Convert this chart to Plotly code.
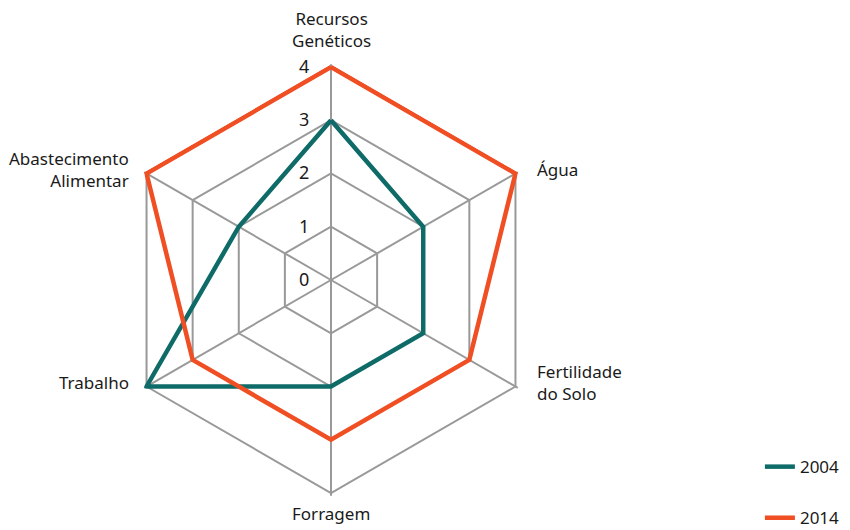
import math
import plotly.graph_objects as go

categories = ["Recursos<br>Genéticos", "Água", "Fertilidade<br>do Solo", "Forragem", "Trabalho", "Abastecimento<br>Alimentar"]
values_2004 = [3, 2, 2, 2, 4, 2]
values_2014 = [4, 4, 3, 3, 3, 4]
radial_ticks = [0, 1, 2, 3, 4]
radial_max = 4.05  # small headroom so the outer lines are not clipped

FONT = "Noto Sans"
TEAL = "#0e6b68"
ORANGE = "#f04e23"
W, H = 842, 522
CX, CY, R = 323, 272, 213  # polar centre / radius of value 4 in figure pixels
RD = R * radial_max / radial_ticks[-1]

fig = go.Figure()
fig.add_trace(go.Scatterpolar(
    r=values_2004 + values_2004[:1], theta=categories + categories[:1],
    mode="lines", name="2004", line=dict(color=TEAL, width=4.5),
    cliponaxis=False, legendgroup="a"))
fig.add_trace(go.Scatterpolar(
    r=values_2014 + values_2014[:1], theta=categories + categories[:1],
    mode="lines", name="2014", line=dict(color=ORANGE, width=4.5),
    cliponaxis=False, legendgroup="b"))

# category labels placed just outside each spoke
annotations = []
n = len(categories)
for i, cat in enumerate(categories):
    ang = math.radians(90 - 360 * i / n)
    c, s = math.cos(ang), math.sin(ang)
    if abs(c) < 0.1:
        xanchor, align = "center", "center"
        yanchor = "bottom" if s > 0 else "top"
        gap = 13 if s > 0 else 7
        px = CX + (R + gap) * c
        py = CY - (R + gap) * s
    else:
        xanchor = "left" if c > 0 else "right"
        align = xanchor
        yanchor = "middle"
        px = CX + R * c + (20 if c > 0 else -16)
        py = CY - R * s - 4
    annotations.append(dict(
        text=cat, x=px / W, y=1 - py / H, xref="paper", yref="paper",
        xanchor=xanchor, yanchor=yanchor, align=align, showarrow=False,
        font=dict(size=17, color="#1a1a1a"),
    ))

fig.update_layout(
    width=W, height=H,
    margin=dict(l=0, r=0, t=0, b=0, autoexpand=False),
    paper_bgcolor="white",
    font=dict(family=FONT, size=17, color="#1a1a1a"),
    annotations=annotations,
    polar=dict(
        domain=dict(x=[(CX - RD) / W, (CX + RD) / W], y=[1 - (CY + RD) / H, 1 - (CY - RD) / H]),
        gridshape="linear",
        bgcolor="white",
        radialaxis=dict(
            range=[0, radial_max], tickvals=radial_ticks, ticktext=[str(t) for t in radial_ticks],
            angle=90, tickangle=90, side="counterclockwise",
            showline=False, ticks="outside", ticklen=15, tickcolor="rgba(0,0,0,0)",
            gridcolor="#999999", gridwidth=1.6, layer="below traces",
            tickfont=dict(size=18),
        ),
        angularaxis=dict(
            rotation=90, direction="clockwise",
            gridcolor="#999999", gridwidth=1.6, layer="below traces",
            showline=False, ticks="", showticklabels=False,
        ),
    ),
    legend=dict(
        x=0.893, y=0.155, xanchor="left", yanchor="top",
        tracegroupgap=26,
        font=dict(size=17),
    ),
)

fig.write_html("out.html")
